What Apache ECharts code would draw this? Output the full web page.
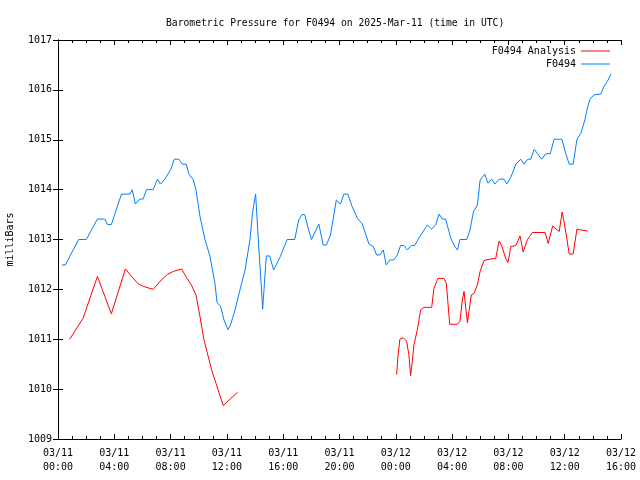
<!DOCTYPE html>
<html>
<head>
<meta charset="utf-8">
<script src="https://cdn.jsdelivr.net/npm/echarts@6/dist/echarts.min.js"></script>
<style>html,body{margin:0;padding:0;background:#fff}#c{width:640px;height:480px}</style>
</head>
<body>
<div id="c"></div>
<script>
// Hours since 2025-03-11 00:00 UTC
const xTickLabels = ['03/11\n00:00','03/11\n04:00','03/11\n08:00','03/11\n12:00','03/11\n16:00','03/11\n20:00','03/12\n00:00','03/12\n04:00','03/12\n08:00','03/12\n12:00','03/12\n16:00'];

const stationHours = [0.28,0.52,1.47,2.01,2.80,3.32,3.51,3.79,4.51,5.10,
5.27,5.50,5.81,6.05,6.28,6.76,7.07,7.28,7.59,8.02,
8.26,8.59,8.83,9.11,9.30,9.61,9.80,10.09,10.44,10.80,
11.15,11.30,11.55,11.79,12.08,12.26,12.58,12.93,13.29,13.64,
13.83,14.04,14.26,14.43,14.54,14.80,15.04,15.32,15.80,16.28,
16.82,17.10,17.34,17.53,17.77,18.01,18.53,18.84,19.07,19.36,
19.77,20.07,20.31,20.59,20.90,21.26,21.62,22.09,22.40,22.63,
22.87,23.11,23.32,23.58,23.86,24.11,24.34,24.58,24.82,25.10,
25.34,25.64,26.24,26.53,26.83,27.07,27.31,27.54,27.90,28.19,
28.38,28.56,29.04,29.27,29.52,29.80,29.99,30.32,30.55,30.80,
31.03,31.34,31.69,31.89,32.17,32.53,32.88,33.12,33.36,33.59,
33.83,34.07,34.36,34.66,34.97,35.25,35.80,36.08,36.32,36.60,
36.87,37.15,37.44,37.63,37.81,38.10,38.58,38.77,39.05,39.29];

const stationValues = [1012.49,1012.49,1013.0,1013.0,1013.41,1013.41,1013.3,1013.3,1013.91,1013.91,
1014.0,1013.71,1013.81,1013.81,1014.0,1014.0,1014.21,1014.11,1014.21,1014.41,
1014.61,1014.61,1014.51,1014.51,1014.31,1014.2,1014.0,1013.46,1013.0,1012.66,
1012.12,1011.74,1011.66,1011.39,1011.19,1011.29,1011.59,1011.99,1012.39,1013.0,
1013.56,1013.91,1012.86,1012.12,1011.6,1012.67,1012.67,1012.39,1012.66,1013.0,
1013.0,1013.39,1013.5,1013.5,1013.23,1013.0,1013.31,1012.89,1012.89,1013.09,
1013.79,1013.71,1013.91,1013.91,1013.66,1013.43,1013.31,1012.91,1012.86,1012.69,
1012.69,1012.79,1012.49,1012.59,1012.59,1012.69,1012.88,1012.88,1012.79,1012.88,
1012.88,1013.03,1013.29,1013.21,1013.29,1013.51,1013.41,1013.41,1013.03,1012.86,
1012.79,1013.0,1013.0,1013.19,1013.56,1013.69,1014.19,1014.31,1014.13,1014.21,
1014.11,1014.21,1014.21,1014.11,1014.25,1014.51,1014.61,1014.51,1014.61,1014.61,
1014.81,1014.72,1014.61,1014.72,1014.72,1015.01,1015.01,1014.72,1014.51,1014.51,
1015.01,1015.13,1015.4,1015.66,1015.82,1015.9,1015.92,1016.06,1016.18,1016.32];

const analysisHours1 = [0.83,1.78,2.80,3.79,4.79,5.10,5.70,6.07,6.76,7.35,7.78,8.19,8.78,9.13,9.49,9.80,10.09,10.37,10.91,11.74,12.76];
const analysisValues1 = [1011.0,1011.42,1012.26,1011.51,1012.41,1012.3,1012.11,1012.06,1012.0,1012.19,1012.3,1012.36,1012.41,1012.24,1012.08,1011.89,1011.45,1010.99,1010.39,1009.67,1009.94];

const analysisHours2 = [24.06,24.15,24.29,24.53,24.77,24.93,25.05,25.17,25.29,25.53,
25.77,26.00,26.55,26.71,26.99,27.42,27.59,27.83,28.38,28.56,
28.73,28.85,28.97,29.09,29.20,29.37,29.56,29.80,29.99,30.27,
30.75,31.10,31.34,31.53,31.81,31.98,32.17,32.53,32.83,33.05,
33.35,33.72,34.61,34.83,35.14,35.61,35.82,35.94,36.16,36.32,
36.60,36.87,37.15,37.63];
const analysisValues2 = [1010.29,1010.65,1011.0,1011.03,1010.96,1010.69,1010.27,1010.55,1010.89,1011.19,
1011.59,1011.64,1011.64,1012.02,1012.22,1012.22,1012.12,1011.3,1011.3,1011.36,
1011.79,1011.96,1011.62,1011.33,1011.56,1011.89,1011.92,1012.09,1012.36,1012.58,
1012.61,1012.62,1012.97,1012.87,1012.62,1012.54,1012.86,1012.88,1013.07,1012.75,
1013.0,1013.14,1013.14,1012.92,1013.27,1013.16,1013.55,1013.38,1013.0,1012.71,
1012.71,1013.21,1013.19,1013.17];

const zip = (a, b) => a.map((v, i) => [v, b[i]]);
const stationData = zip(stationHours, stationValues);
const analysisData = zip(analysisHours1, analysisValues1)
  .concat([[18, null]])
  .concat(zip(analysisHours2, analysisValues2));

const FONT = 'DejaVu Sans Mono';
const axisLine = { show: true, lineStyle: { color: '#000', width: 1 } };

const chart = echarts.init(document.getElementById('c'), null, { renderer: 'canvas' });
chart.setOption({
  animation: false,
  backgroundColor: '#fff',
  title: {
    text: 'Barometric Pressure for F0494 on 2025-Mar-11 (time in UTC)',
    left: 161, top: 13,
    textStyle: { fontFamily: FONT, fontSize: 9.7, fontWeight: 'normal', color: '#000' }
  },
  legend: [
    { data: ['F0494 Analysis'], right: 30, top: 46, padding: 0, align: 'right', icon: 'rect', itemWidth: 29, itemHeight: 1,
      textStyle: { fontFamily: FONT, fontSize: 10, color: '#000' } },
    { data: ['F0494'], right: 30, top: 59, padding: 0, align: 'right', icon: 'rect', itemWidth: 29, itemHeight: 1,
      textStyle: { fontFamily: FONT, fontSize: 10, color: '#000' } }
  ],
  grid: { left: 58, right: 19, top: 40, bottom: 41, containLabel: false, outerBoundsMode: 'none' },
  xAxis: [
    { type: 'value', position: 'bottom', min: 0, max: 40, interval: 4,
      axisLine: axisLine,
      axisTick: { inside: true, length: 5, lineStyle: { color: '#000' } },
      minorTick: { show: true, splitNumber: 4, length: 3, lineStyle: { color: '#000' } },
      splitLine: { show: false },
      axisLabel: { margin: 7, fontFamily: FONT, fontSize: 10, color: '#000', lineHeight: 14,
        showMinLabel: true, showMaxLabel: true, hideOverlap: false,
        formatter: v => xTickLabels[Math.round(v / 4)] } },
    { type: 'value', position: 'top', min: 0, max: 40, interval: 4,
      axisLine: axisLine,
      axisTick: { inside: true, length: 5, lineStyle: { color: '#000' } },
      minorTick: { show: true, splitNumber: 4, length: 3, lineStyle: { color: '#000' } },
      splitLine: { show: false },
      axisLabel: { show: false } }
  ],
  yAxis: [
    { type: 'value', position: 'left', min: 1009, max: 1017, interval: 1,
      name: 'milliBars', nameLocation: 'middle', nameGap: 43, nameRotate: 90,
      nameTextStyle: { fontFamily: FONT, fontSize: 10, color: '#000' },
      axisLine: axisLine,
      axisTick: { inside: true, length: 5, lineStyle: { color: '#000' } },
      splitLine: { show: false },
      axisLabel: { margin: 6, fontFamily: FONT, fontSize: 10, color: '#000',
        formatter: v => String(v) } },
    { type: 'value', position: 'right', min: 1009, max: 1017, interval: 1,
      axisLine: axisLine,
      axisTick: { inside: true, length: 5, lineStyle: { color: '#000' } },
      splitLine: { show: false },
      axisLabel: { show: false } }
  ],
  series: [
    { name: 'F0494 Analysis', type: 'line', xAxisIndex: 0, yAxisIndex: 0, data: analysisData,
      showSymbol: false, symbol: 'none', connectNulls: false, color: '#ff0000',
      lineStyle: { width: 1, color: '#ff0000' }, itemStyle: { color: '#ff0000' } },
    { name: 'F0494', type: 'line', xAxisIndex: 0, yAxisIndex: 0, data: stationData,
      showSymbol: false, symbol: 'none', color: '#0080ff',
      lineStyle: { width: 1, color: '#0080ff' }, itemStyle: { color: '#0080ff' } }
  ]
});
</script>
</body>
</html>
